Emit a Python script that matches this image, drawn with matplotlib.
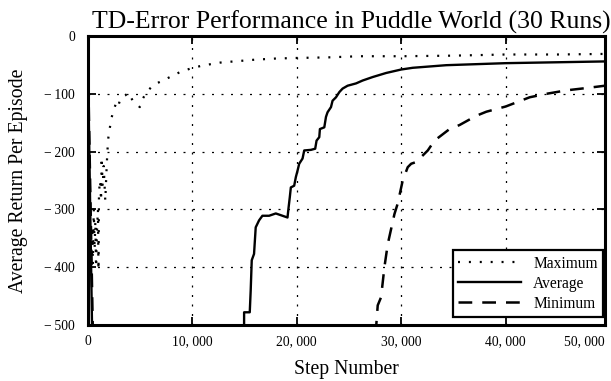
import matplotlib
matplotlib.use("Agg")
import matplotlib.pyplot as plt

plt.rcParams['font.family'] = ['Liberation Serif', 'DejaVu Serif']

# Maximum return per episode across the runs
max_steps = [380, 450, 520, 600, 680, 750, 820, 900, 1000, 1050, 1100, 1200, 1300,
             1350, 1450, 1550, 1700, 1800, 1900, 2000, 2130, 2250, 2500, 2700, 2900,
             3150, 3600, 3900, 4300, 5000, 5300, 5700, 6350, 7100, 8000, 8900, 9900,
             10800, 11700, 12700, 14000, 16000, 18000, 20000, 23000, 26000, 30000,
             35000, 40000, 45000, 49500]
max_return = [-415, -330, -395, -300, -370, -320, -400, -340, -300, -405, -270, -250,
              -285, -210, -260, -225, -285, -240, -200, -175, -160, -145, -128, -118,
              -124, -108, -103, -98, -111, -123, -108, -96, -84, -78, -70, -62, -56,
              -52, -49, -46, -44, -41, -39, -38, -37, -35, -35, -34, -32, -32, -31]

# Average return per episode
avg_steps = [0, 450, 1000, 8000, 14950, 14980, 15520, 15610, 15710, 15930, 16090,
             16410, 16730, 17370, 18010, 18650, 19130, 19220, 19350, 19450, 19770,
             19930, 20090, 20250, 20570, 20730, 21370, 21780, 21910, 22170, 22230,
             22650, 22810, 22960, 23290, 23440, 23770, 24090, 24400, 24880, 25690,
             26320, 27280, 28560, 30000, 31110, 34310, 40000, 49500]
avg_return = [0, -520, -2500, -3000, -800, -478, -478, -440, -388, -377, -331,
              -319, -311, -311, -307, -311, -314, -299, -279, -262, -259,
              -244, -233, -221, -212, -198, -197, -195, -181, -175, -161,
              -158, -140, -132, -123, -112, -106, -97, -91, -86, -82,
              -77, -71, -64, -58, -55, -50.5, -47, -44]

# Minimum return per episode
min_steps = [0, 560, 5000, 20000, 27380, 27760, 28080, 28400, 28720, 29360, 29670,
             30150, 30630, 30960, 31440, 32550, 33190, 34630, 35590, 37190, 38150,
             40000, 42300, 43900, 45820, 47740, 49500]
min_return = [0, -560, -3000, -3500, -560, -466, -452, -400, -360, -308, -290,
              -250, -227, -221, -218, -198, -181, -161, -154, -138, -131,
              -122, -106, -100, -94, -90, -86]

x_ticks = [0, 10000, 20000, 30000, 40000]
x_tick_labels = ['0', '10, 000', '20, 000', '30, 000', '40, 000']
y_ticks = [0, -100, -200, -300, -400, -500]
y_tick_labels = ['0', '\u2212\u2009100', '\u2212\u2009200', '\u2212\u2009300',
                 '\u2212\u2009400', '\u2212\u2009500']

fig = plt.figure(figsize=(6.11, 3.81), dpi=100)
ax = fig.add_axes([87.5 / 611, 1 - 325 / 381, (605 - 87.5) / 611, (325 - 36) / 381])

ax.plot(max_steps, max_return, color='black', lw=1.6,
        linestyle=(0, (0.9, 4.0)), dash_capstyle='butt', label='Maximum')
ax.plot(avg_steps, avg_return, color='black', lw=1.7, linestyle='-', label='Average')
ax.plot(min_steps, min_return, color='black', lw=1.8,
        linestyle=(0, (5.5, 4.0)), label='Minimum')

ax.set_xlim(0, 49500)
ax.set_ylim(-500, 0)
ax.set_xticks(x_ticks)
ax.set_xticklabels(x_tick_labels)
ax.set_yticks(y_ticks)
ax.set_yticklabels(y_tick_labels)
ax.text(1.0, -0.036, '50, 000', transform=ax.transAxes, ha='right', va='top',
        fontsize=9.8)

ax.grid(True, color='black', lw=0.9, linestyle=(0, (1.6, 6.0)))
ax.tick_params(direction='in', length=6, width=1.3, top=True, right=True,
               labelsize=9.8, pad=7)
ax.tick_params(axis='y', pad=9)
for s in ax.spines.values():
    s.set_linewidth(2.2)

ax.set_title('TD-Error Performance in Puddle World (30 Runs)', fontsize=18.5, pad=5,
             x=0.509)
ax.set_xlabel('Step Number', fontsize=14.2, labelpad=9)
ax.set_ylabel('Average Return Per Episode', fontsize=14.2, labelpad=12)

leg = ax.legend(loc='lower right', fontsize=11.2, fancybox=False,
                framealpha=1, edgecolor='black', handlelength=4.0,
                borderaxespad=0.0, labelspacing=0.25, borderpad=0.35)
leg.set_bbox_to_anchor((603 / 611, 1 - 317 / 381), transform=fig.transFigure)
leg.get_frame().set_linewidth(1.6)

fig.savefig('out.png', dpi=100)
